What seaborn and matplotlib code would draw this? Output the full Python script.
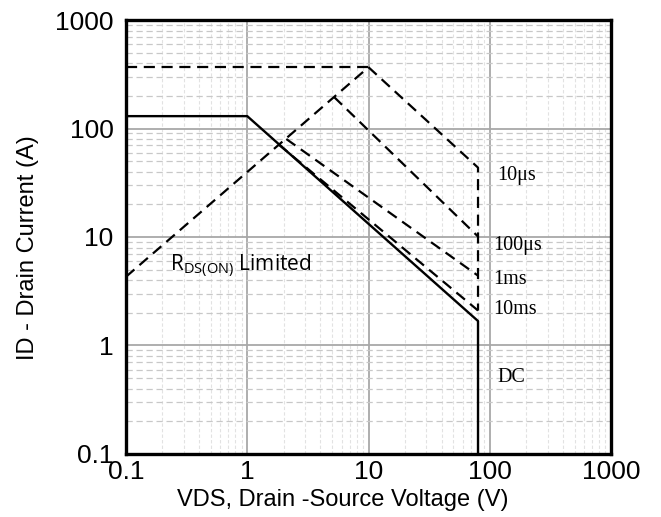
import matplotlib
matplotlib.use("Agg")
import matplotlib.pyplot as plt
import matplotlib.ticker as mticker
from matplotlib import font_manager
import seaborn as sns
import pandas as pd

# ---- data ----
dc_v = [0.1, 1, 80, 80]
dc_i = [130, 130, 1.68, 0.1]
rds_v = [0.1, 10]
rds_i = [4.3, 367]
top_v = [0.1, 10]
top_i = [367, 367]
us10_v = [10, 80, 80]
us10_i = [367, 43.6, 2.1]
us100_v = [5.2, 80]
us100_i = [195, 10.1]
ms1_v = [2.1, 80]
ms1_i = [80, 4.4]
ms10_v = [1.82, 80]
ms10_i = [71, 2.1]

curve_labels = ["10\u03bcs", "100\u03bcs", "1ms", "10ms", "DC"]
curve_label_v = [116, 107, 107, 107, 116]
curve_label_i = [37, 8.3, 4.1, 2.15, 0.51]

tick_vals = [0.1, 1, 10, 100, 1000]
tick_labels = ["0.1", "1", "10", "100", "1000"]

sns.set_style("white")
plt.rcParams["font.family"] = ["Liberation Sans", "DejaVu Sans"]
plt.rcParams["text.color"] = "black"
plt.rcParams["axes.labelcolor"] = "black"
plt.rcParams["xtick.color"] = "black"
plt.rcParams["ytick.color"] = "black"

# narrow font for tick labels if available
try:
    font_manager.findfont(font_manager.FontProperties(family="Liberation Sans Narrow"),
                          fallback_to_default=False)
    tick_family, tick_size = ["Liberation Sans Narrow"], 20
except Exception:
    tick_family, tick_size = ["Liberation Sans", "DejaVu Sans"], 19

fig = plt.figure(figsize=(6.61, 5.17), dpi=100)
ax = fig.add_axes([0.1906, 0.1219, 0.7338, 0.8394])
ax.set_xscale("log")
ax.set_yscale("log")

dash = (5, 3)
lw_d = 1.6
series = [
    (rds_v, rds_i),
    (top_v, top_i),
    (us10_v, us10_i),
    (us100_v, us100_i),
    (ms1_v, ms1_i),
    (ms10_v, ms10_i),
]
for v, i in series:
    df = pd.DataFrame({"v": v, "i": i})
    sns.lineplot(data=df, x="v", y="i", ax=ax, color="black", lw=lw_d,
                 sort=False, estimator=None)
    ax.lines[-1].set_dashes(dash)

df_dc = pd.DataFrame({"v": dc_v, "i": dc_i})
sns.lineplot(data=df_dc, x="v", y="i", ax=ax, color="black", lw=1.7,
             sort=False, estimator=None)

ax.set_xlim(0.1, 1000)
ax.set_ylim(0.1, 1000)

ax.xaxis.set_major_locator(mticker.FixedLocator(tick_vals))
ax.yaxis.set_major_locator(mticker.FixedLocator(tick_vals))
ax.xaxis.set_major_formatter(mticker.FixedFormatter(tick_labels))
ax.yaxis.set_major_formatter(mticker.FixedFormatter(tick_labels))
ax.xaxis.set_minor_locator(mticker.LogLocator(base=10, subs=range(2, 10), numticks=20))
ax.yaxis.set_minor_locator(mticker.LogLocator(base=10, subs=range(2, 10), numticks=20))
ax.xaxis.set_minor_formatter(mticker.NullFormatter())
ax.yaxis.set_minor_formatter(mticker.NullFormatter())

ax.grid(which="major", color="#a8a8a8", lw=1.3, ls="-")
ax.xaxis.grid(which="minor", color="#e2e2e2", lw=0.8, ls=(0, (3, 2)))
ax.yaxis.grid(which="minor", color="#c8c8c8", lw=0.9, ls=(0, (5, 3)))
ax.set_axisbelow(True)

ax.tick_params(which="both", length=0, labelcolor="black")
ax.tick_params(axis="y", pad=9)
ax.tick_params(axis="x", pad=4)
for lab in ax.get_xticklabels() + ax.get_yticklabels():
    lab.set_family(tick_family)
    lab.set_fontsize(tick_size)

for s in ax.spines.values():
    s.set_visible(True)
    s.set_color("black")
    s.set_linewidth(2.4)

ax.set_xlabel("VDS, Drain -Source Voltage (V)", fontsize=17, color="black")
ax.set_ylabel("ID - Drain Current (A)", fontsize=17, color="black")
ax.xaxis.set_label_coords(0.447, -0.106)
ax.xaxis.label.set_va("center")
ax.yaxis.set_label_coords(-0.203, 0.475)
ax.yaxis.label.set_va("center")

ax.text(0.23, 5.4, r"R$_{\mathregular{DS(ON)}}$ Limited", fontsize=15,
        family=["Open Sans", "DejaVu Sans"], va="center", ha="left", color="black")

for lab, v, i in zip(curve_labels, curve_label_v, curve_label_i):
    ax.text(v, i, lab, fontsize=14.5, family=["Liberation Serif", "DejaVu Serif"],
            va="center", ha="left", color="black")

fig.savefig("out.png", dpi=100)
